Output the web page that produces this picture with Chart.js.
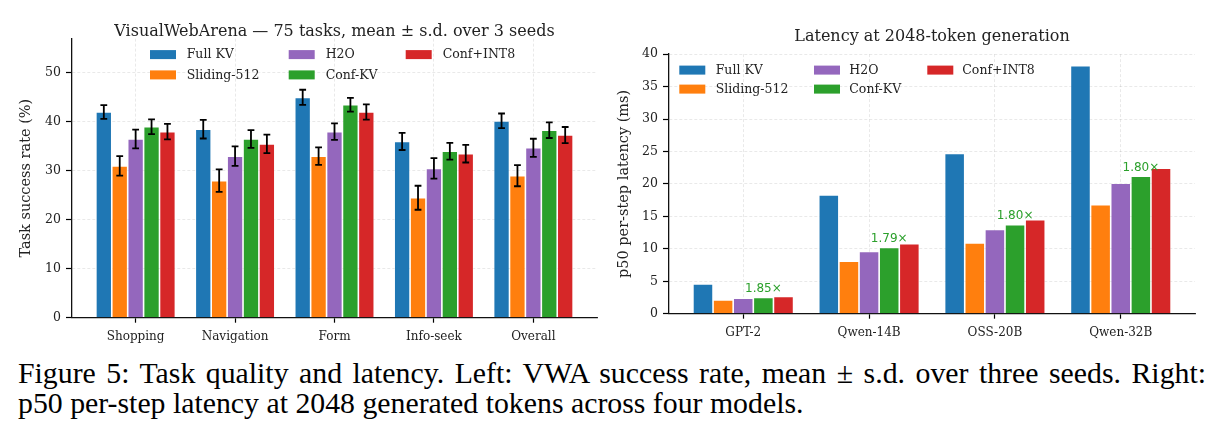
<!DOCTYPE html>
<html>
<head>
<meta charset="utf-8">
<script src="https://cdn.jsdelivr.net/npm/chart.js@4.4.1/dist/chart.umd.min.js"></script>
<style>
  html, body { margin: 0; padding: 0; background: #fff; overflow: hidden; }
  body { width: 1225px; height: 434px; position: relative; }
  #c1 { position: absolute; left: 0; top: 0; }
  #c2 { position: absolute; left: 610px; top: 0; }
  #cap { position: absolute; left: 18px; top: 358px; width: 1188px;
         font-family: 'Liberation Serif', 'Times New Roman', serif; font-size: 29.8px;
         line-height: 30px; color: #000; }
  #cap .l1 { text-align: justify; text-align-last: justify; white-space: nowrap; }
</style>
</head>
<body>
<canvas id="c1" width="610" height="350"></canvas>
<canvas id="c2" width="615" height="350"></canvas>
<div id="cap">
  <div class="l1">Figure 5: Task quality and latency. Left: VWA success rate, mean ± s.d. over three seeds. Right:</div>
  <div>p50 per-step latency at 2048 generated tokens across four models.</div>
</div>
<script>
// ---------------- data ----------------
const seriesNames = ['Full KV', 'Sliding-512', 'H2O', 'Conf-KV', 'Conf+INT8'];
const seriesColors = ['#1f77b4', '#ff7f0e', '#9467bd', '#2ca02c', '#d62728'];

const vwaCategories = ['Shopping', 'Navigation', 'Form', 'Info-seek', 'Overall'];
const vwaFullKV   = [42.0, 38.5, 45.0, 36.0, 40.2];
const vwaSliding  = [31.0, 28.0, 33.0, 24.5, 29.0];
const vwaH2O      = [36.5, 33.0, 38.0, 30.5, 34.7];
const vwaConfKV   = [39.0, 36.5, 43.5, 34.0, 38.3];
const vwaConfINT8 = [38.0, 35.5, 42.0, 33.5, 37.3];
const vwaErrFullKV   = [1.4, 1.9, 1.55, 1.75, 1.5];
const vwaErrSliding  = [2.0, 2.3, 1.8, 2.45, 2.15];
const vwaErrH2O      = [1.9, 2.0, 1.7, 2.1, 1.85];
const vwaErrConfKV   = [1.5, 1.8, 1.4, 1.7, 1.6];
const vwaErrConfINT8 = [1.6, 1.9, 1.55, 1.8, 1.65];
const vwaTicks = [0, 10, 20, 30, 40, 50];

const latModels   = ['GPT-2', 'Qwen-14B', 'OSS-20B', 'Qwen-32B'];
const latFullKV   = [4.6, 18.3, 24.7, 38.2];
const latSliding  = [2.1, 8.1, 10.9, 16.8];
const latH2O      = [2.4, 9.6, 13.0, 20.1];
const latConfKV   = [2.5, 10.2, 13.7, 21.2];
const latConfINT8 = [2.65, 10.8, 14.5, 22.4];
const latSpeedupLabels = ['1.85×', '1.79×', '1.80×', '1.80×'];
const latTicks = [0, 5, 10, 15, 20, 25, 30, 35, 40];

const leftTitle = 'VisualWebArena — 75 tasks, mean ± s.d. over 3 seeds';
const leftYLabel = 'Task success rate (%)';
const rightTitle = 'Latency at 2048-token generation';
const rightYLabel = 'p50 per-step latency (ms)';

// ---------------- styling helpers ----------------
const SERIF = "'DejaVu Serif', serif";
const SANS = "'DejaVu Sans', sans-serif";
Chart.defaults.font.family = SERIF;
Chart.defaults.color = '#222';

function makeDatasets(valueArrays, errArrays) {
  return valueArrays.map((vals, i) => ({
    label: seriesNames[i],
    data: vals,
    errors: errArrays ? errArrays[i] : null,
    backgroundColor: seriesColors[i],
    borderColor: 'rgba(255,255,255,0.55)',
    borderWidth: 0.8,
    categoryPercentage: 0.8,
    barPercentage: 1.0,
  }));
}

const errorBarPlugin = {
  id: 'errorBars',
  afterDatasetsDraw(chart) {
    const ctx = chart.ctx, y = chart.scales.y;
    chart.data.datasets.forEach((ds, i) => {
      if (!ds.errors) return;
      const meta = chart.getDatasetMeta(i);
      meta.data.forEach((bar, j) => {
        const v = ds.data[j], e = ds.errors[j];
        const yt = y.getPixelForValue(v + e), yb = y.getPixelForValue(v - e);
        ctx.save();
        ctx.strokeStyle = '#000';
        ctx.lineWidth = 1.8;
        ctx.beginPath();
        ctx.moveTo(bar.x, yt); ctx.lineTo(bar.x, yb);
        ctx.moveTo(bar.x - 3.4, yt); ctx.lineTo(bar.x + 3.4, yt);
        ctx.moveTo(bar.x - 3.4, yb); ctx.lineTo(bar.x + 3.4, yb);
        ctx.stroke();
        ctx.restore();
      });
    });
  }
};

const gridLegendPlugin = {
  id: 'gridLegend',
  afterDraw(chart, args, opts) {
    const {ctx, chartArea} = chart;
    ctx.save();
    ctx.font = opts.font;
    ctx.textBaseline = 'middle';
    ctx.textAlign = 'left';
    chart.data.datasets.forEach((ds, i) => {
      const col = Math.floor(i / 2), row = i % 2;
      const px = chartArea.left + opts.colX[col];
      const py = chartArea.top + opts.rowY[row];
      ctx.fillStyle = ds.backgroundColor;
      ctx.fillRect(px, py - 4.5, 26, 9);
      ctx.fillStyle = '#222';
      ctx.fillText(ds.label, px + opts.textDx[col], py + 0.5);
    });
    ctx.restore();
  }
};

const speedupPlugin = {
  id: 'speedup',
  afterDatasetsDraw(chart, args, opts) {
    if (!opts.labels) return;
    const ctx = chart.ctx, y = chart.scales.y;
    const meta = chart.getDatasetMeta(opts.datasetIndex);
    const vals = chart.data.datasets[opts.datasetIndex].data;
    ctx.save();
    ctx.font = "12px " + SANS;
    ctx.fillStyle = '#2ca02c';
    ctx.textAlign = 'center';
    ctx.textBaseline = 'alphabetic';
    meta.data.forEach((bar, j) => {
      ctx.fillText(opts.labels[j], bar.x, y.getPixelForValue(vals[j]) - 5.5);
    });
    ctx.restore();
  }
};

function makeOptions(cfg) {
  return {
    responsive: false,
    animation: false,
    events: [],
    layout: { padding: { left: 0, right: cfg.padRight, top: 0, bottom: 0 } },
    plugins: {
      legend: { display: false },
      tooltip: { enabled: false },
      title: {
        display: true, text: cfg.title, fullSize: false, color: '#222',
        font: { family: SERIF, size: 16, weight: 'normal', lineHeight: 0.8 },
        padding: { top: cfg.titleTop, bottom: cfg.titleBottom }
      },
      gridLegend: cfg.legend,
      speedup: cfg.speedup || {},
    },
    scales: {
      x: {
        type: 'category',
        offset: true,
        afterBuildTicks: (s) => { s._startValue = cfg.xStart; s._valueRange = cfg.xRange; },
        afterFit: (s) => { s.height = cfg.xHeight; },
        grid: { display: true, offset: false, color: 'rgba(0,0,0,0.11)', lineWidth: 0.8,
                drawTicks: true, tickLength: 5, tickColor: '#000', tickWidth: 1.2, tickBorderDash: [] },
        border: { display: true, color: '#111', width: 1.3, dash: [3, 2] },
        ticks: { font: { size: 12, family: SERIF }, color: '#222', padding: 7, maxRotation: 0, autoSkip: false }
      },
      y: {
        min: 0, max: cfg.yMax,
        afterBuildTicks: (s) => { s.ticks = cfg.yTicks.map(v => ({ value: v })); },
        afterFit: (s) => { s.width = cfg.yWidth; },
        grid: { display: true, color: 'rgba(0,0,0,0.11)', lineWidth: 0.8,
                drawTicks: true, tickLength: 6, tickColor: '#000', tickWidth: 1.2, tickBorderDash: [] },
        border: { display: true, color: '#111', width: 1.3, dash: [3, 2] },
        ticks: { font: { size: 12.5, family: SERIF }, color: '#222', padding: 5, includeBounds: false },
        title: { display: true, text: cfg.yLabel, color: '#222',
                 font: { size: 14.5, family: SERIF }, padding: { top: cfg.yTitlePad, bottom: 0 } }
      }
    }
  };
}

new Chart(document.getElementById('c1'), {
  type: 'bar',
  data: {
    labels: vwaCategories,
    datasets: makeDatasets(
      [vwaFullKV, vwaSliding, vwaH2O, vwaConfKV, vwaConfINT8],
      [vwaErrFullKV, vwaErrSliding, vwaErrH2O, vwaErrConfKV, vwaErrConfINT8])
  },
  options: makeOptions({
    title: leftTitle, yLabel: leftYLabel,
    padRight: 13, titleTop: 25.5, titleBottom: 0.3,
    xHeight: 32.3, yWidth: 72, yMax: 57, yTicks: vwaTicks,
    xStart: -0.64, xRange: 5.28, yTitlePad: 17.3,
    legend: { font: "12.5px " + SERIF, colX: [78, 216.7, 333.7], rowY: [16, 36.3], textDx: [36.7, 37, 37] }
  }),
  plugins: [errorBarPlugin, gridLegendPlugin]
});

new Chart(document.getElementById('c2'), {
  type: 'bar',
  data: {
    labels: latModels,
    datasets: makeDatasets([latFullKV, latSliding, latH2O, latConfKV, latConfINT8], null)
  },
  options: makeOptions({
    title: rightTitle, yLabel: rightYLabel,
    padRight: 30, titleTop: 30.7, titleBottom: 10.6,
    xHeight: 36.3, yWidth: 59, yMax: 40, yTicks: latTicks,
    xStart: -0.59, xRange: 4.18, yTitlePad: 5.3,
    legend: { font: "12.5px " + SERIF, colX: [10.3, 145, 258.3], rowY: [16, 35], textDx: [36.4, 35.3, 35] },
    speedup: { labels: latSpeedupLabels, datasetIndex: 3 }
  }),
  plugins: [gridLegendPlugin, speedupPlugin]
});
</script>
</body>
</html>
